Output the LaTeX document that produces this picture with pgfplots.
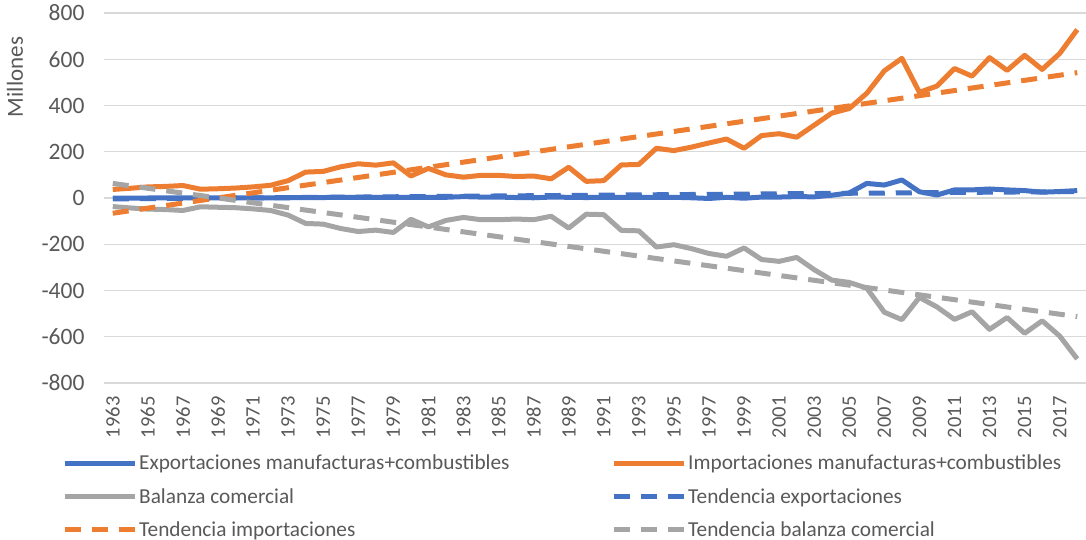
\documentclass[border=0pt]{standalone}
\usepackage{pgfplots}
\pgfplotsset{compat=1.18}
\usepackage{pgfplotstable}
\usepackage{fontspec}
\setmainfont{Carlito}
\definecolor{cblue}{HTML}{4472C4}
\definecolor{corange}{HTML}{ED7D31}
\definecolor{cgrey}{HTML}{A5A5A5}
\definecolor{ctext}{HTML}{595959}
\definecolor{cgrid}{HTML}{D9D9D9}

\pgfplotstableread{
year exp imp bal
1963 -1 37 -37
1964 -1 42 -43
1965 0 48 -48
1966 0 50 -50
1967 0 54 -54
1968 0 38 -38
1969 0 40 -40
1970 1 43 -42
1971 1 48 -47
1972 1 55 -54
1973 1 75 -74
1974 2 112 -110
1975 2 115 -113
1976 3 135 -132
1977 3 148 -145
1978 3 142 -139
1979 3 152 -149
1980 3 95 -92
1981 3 128 -125
1982 3 100 -97
1983 6 90 -84
1984 4 98 -94
1985 4 98 -94
1986 2 93 -91
1987 1 95 -94
1988 4 83 -79
1989 3 133 -130
1990 2 72 -70
1991 3 75 -72
1992 3 143 -140
1993 3 145 -142
1994 3 215 -212
1995 3 205 -202
1996 1 220 -219
1997 -2 238 -240
1998 3 255 -252
1999 -1 215 -216
2000 4 270 -266
2001 4 278 -274
2002 6 263 -257
2003 5 315 -310
2004 12 367 -355
2005 22 387 -365
2006 63 453 -390
2007 56 550 -494
2008 78 604 -526
2009 27 457 -430
2010 13 484 -471
2011 35 560 -525
2012 35 527 -492
2013 39 607 -568
2014 35 552 -517
2015 32 617 -585
2016 25 556 -531
2017 28 625 -597
2018 32 728 -696
}\datatable

\pgfplotstableread{
year texp timp tbal
1963 -4 -66 63
2018 28 542 -513
}\trendtable

\begin{document}
\begin{tikzpicture}
\useasboundingbox (-104pt,-157pt) rectangle (982pt,383pt);
\begin{axis}[
  at={(0,0)}, anchor=south west,
  scale only axis, width=982pt, height=370pt,
  xmin=1962.5, xmax=2018.5, ymin=-800, ymax=800,
  ytick={-800,-600,...,800},
  xtick={1963,1965,...,2017},
  xticklabel={\pgfmathprintnumber[1000 sep={},fixed]{\tick}},
  ymajorgrids, grid style={cgrid, line width=1.3pt},
  axis line style={draw=none}, tick style={draw=none},
  major tick length=0pt,
  yticklabel style={font=\fontsize{23.5}{27}\selectfont, text=ctext, anchor=east, xshift=-16pt},
  xticklabel style={font=\fontsize{20.5}{24}\selectfont, text=ctext, rotate=90, anchor=east, xshift=-10pt},
  /pgf/number format/assume math mode=true,
  ylabel={Millones},
  ylabel style={font=\fontsize{23}{27}\selectfont, text=ctext, at={(axis description cs:-0.0906,0.827)}, anchor=center},
  legend columns=2,
  legend cell align=left,
  legend style={at={(axis description cs:0,0)}, anchor=north west, xshift=-42pt, yshift=-70pt,
     draw=none, fill=none, font=\fontsize{21.3}{25}\selectfont, text=ctext,
     /tikz/every even column/.append style={column sep=0pt}, row sep=13pt, inner sep=0pt},
  legend image code/.code={\draw[#1] (0pt,0pt) -- (70pt,0pt);},
]
\addplot[cblue, line width=5pt, line join=round] table[x=year,y=exp]{\datatable};
\addlegendentry{\makebox[470pt][l]{Exportaciones manufacturas+combustibles}}
\addplot[corange, line width=5pt, line join=round] table[x=year,y=imp]{\datatable};
\addlegendentry{Importaciones manufacturas+combustibles}
\addplot[cgrey, line width=5pt, line join=round] table[x=year,y=bal]{\datatable};
\addlegendentry{\makebox[470pt][l]{Balanza comercial}}
\addplot[cblue, line width=5pt, dash pattern=on 16pt off 11pt] table[x=year,y=texp]{\trendtable};
\addlegendentry{Tendencia exportaciones}
\addplot[corange, line width=5pt, dash pattern=on 16pt off 11pt] table[x=year,y=timp]{\trendtable};
\addlegendentry{\makebox[470pt][l]{Tendencia importaciones}}
\addplot[cgrey, line width=5pt, dash pattern=on 16pt off 11pt] table[x=year,y=tbal]{\trendtable};
\addlegendentry{Tendencia balanza comercial}
\end{axis}
\end{tikzpicture}
\end{document}
